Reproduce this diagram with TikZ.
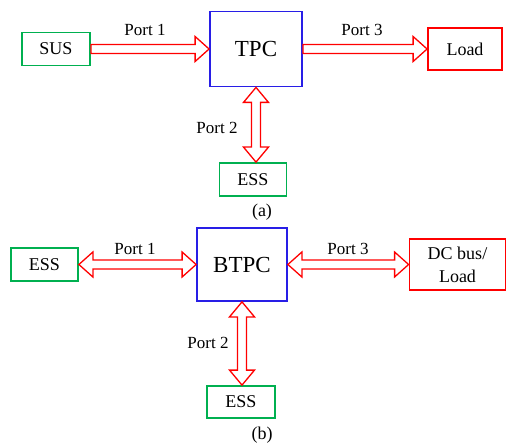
\documentclass[tikz,border=0pt]{standalone}
\usepackage{fontspec}
\setmainfont{Liberation Serif}
\usetikzlibrary{calc}
\definecolor{boxgreen}{RGB}{0,176,80}
\definecolor{boxblue}{RGB}{40,30,230}
\definecolor{arrred}{RGB}{255,0,0}
\tikzset{
  box/.style={draw, line width=1.8pt, inner sep=0pt, align=center, font=\fontsize{18}{23}\selectfont},
  greenbox/.style={box, draw=boxgreen},
  redbox/.style={box, draw=arrred},
  bluebox/.style={box, draw=boxblue, font=\fontsize{23}{26}\selectfont},
  hollow/.style={draw=arrred, fill=white, line width=1.3pt, line join=miter},
  portlabel/.style={font=\fontsize{17}{20}\selectfont, inner sep=0pt},
}
% single-headed horizontal hollow arrow from #1 to #2
\newcommand\sharrow[2]{%
  \coordinate (sa) at (#1.east);
  \coordinate (sb) at (#2.west|-#1.east);
  \draw[hollow] ($(sa)+(0,4.5)$) -- ($(sb)+(-14,4.5)$) -- ($(sb)+(-14,12.5)$) -- (sb)
    -- ($(sb)+(-14,-12.5)$) -- ($(sb)+(-14,-4.5)$) -- ($(sa)+(0,-4.5)$) -- cycle;}
% double-headed horizontal hollow arrow
\newcommand\dharrow[2]{%
  \coordinate (da) at (#1.east);
  \coordinate (db) at (#2.west|-#1.east);
  \draw[hollow] (da) -- ($(da)+(14,12.5)$) -- ($(da)+(14,4.5)$) -- ($(db)+(-14,4.5)$)
    -- ($(db)+(-14,12.5)$) -- (db) -- ($(db)+(-14,-12.5)$) -- ($(db)+(-14,-4.5)$)
    -- ($(da)+(14,-4.5)$) -- ($(da)+(14,-12.5)$) -- cycle;}
% double-headed vertical hollow arrow from #1 (top) to #2 (bottom)
\newcommand\dvarrow[2]{%
  \coordinate (va) at (#1.south);
  \coordinate (vb) at (#1.south|-#2.north);
  \draw[hollow] (va) -- ($(va)+(12.5,-15)$) -- ($(va)+(4.5,-15)$) -- ($(vb)+(4.5,15)$)
    -- ($(vb)+(12.5,15)$) -- (vb) -- ($(vb)+(-12.5,15)$) -- ($(vb)+(-4.5,15)$)
    -- ($(va)+(-4.5,-15)$) -- ($(va)+(-12.5,-15)$) -- cycle;}
\begin{document}
\begin{tikzpicture}[x=1pt,y=1pt]
\useasboundingbox (0,0) rectangle (507,-444);
% (a)
\node[greenbox, minimum width=68pt, minimum height=33pt] (sus) at (56,-49) {SUS};
\node[bluebox, minimum width=92pt, minimum height=75pt] (tpc) at (256,-49) {TPC};
\node[redbox, minimum width=74pt, minimum height=42pt] (load) at (465,-49) {Load};
\node[greenbox, minimum width=67pt, minimum height=33pt] (essa) at (253,-179.5) {ESS};
\sharrow{sus}{tpc}
\sharrow{tpc}{load}
\dvarrow{tpc}{essa}
\node[portlabel] (p1a) at (145,-30) {Port 1};
\node[portlabel] (p3a) at (362,-30) {Port 3};
\node[portlabel] (p2a) at (217,-128) {Port 2};
\node[portlabel, font=\fontsize{18}{20}\selectfont] (capa) at (262,-212) {(a)};
% (b)
\node[greenbox, minimum width=67pt, minimum height=33pt] (essl) at (44.5,-264.5) {ESS};
\node[bluebox, minimum width=90pt, minimum height=73pt] (btpc) at (242,-264.5) {BTPC};
\node[redbox, minimum width=96pt, minimum height=51pt] (dc) at (457.5,-264.5) {DC bus/\\Load};
\node[greenbox, minimum width=68pt, minimum height=32pt] (essb) at (241,-402) {ESS};
\dharrow{essl}{btpc}
\dharrow{btpc}{dc}
\dvarrow{btpc}{essb}
\node[portlabel] (p1b) at (135,-249) {Port 1};
\node[portlabel] (p3b) at (348,-249) {Port 3};
\node[portlabel] (p2b) at (208,-343) {Port 2};
\node[portlabel, font=\fontsize{18}{20}\selectfont] (capb) at (262,-435) {(b)};
\end{tikzpicture}
\end{document}
